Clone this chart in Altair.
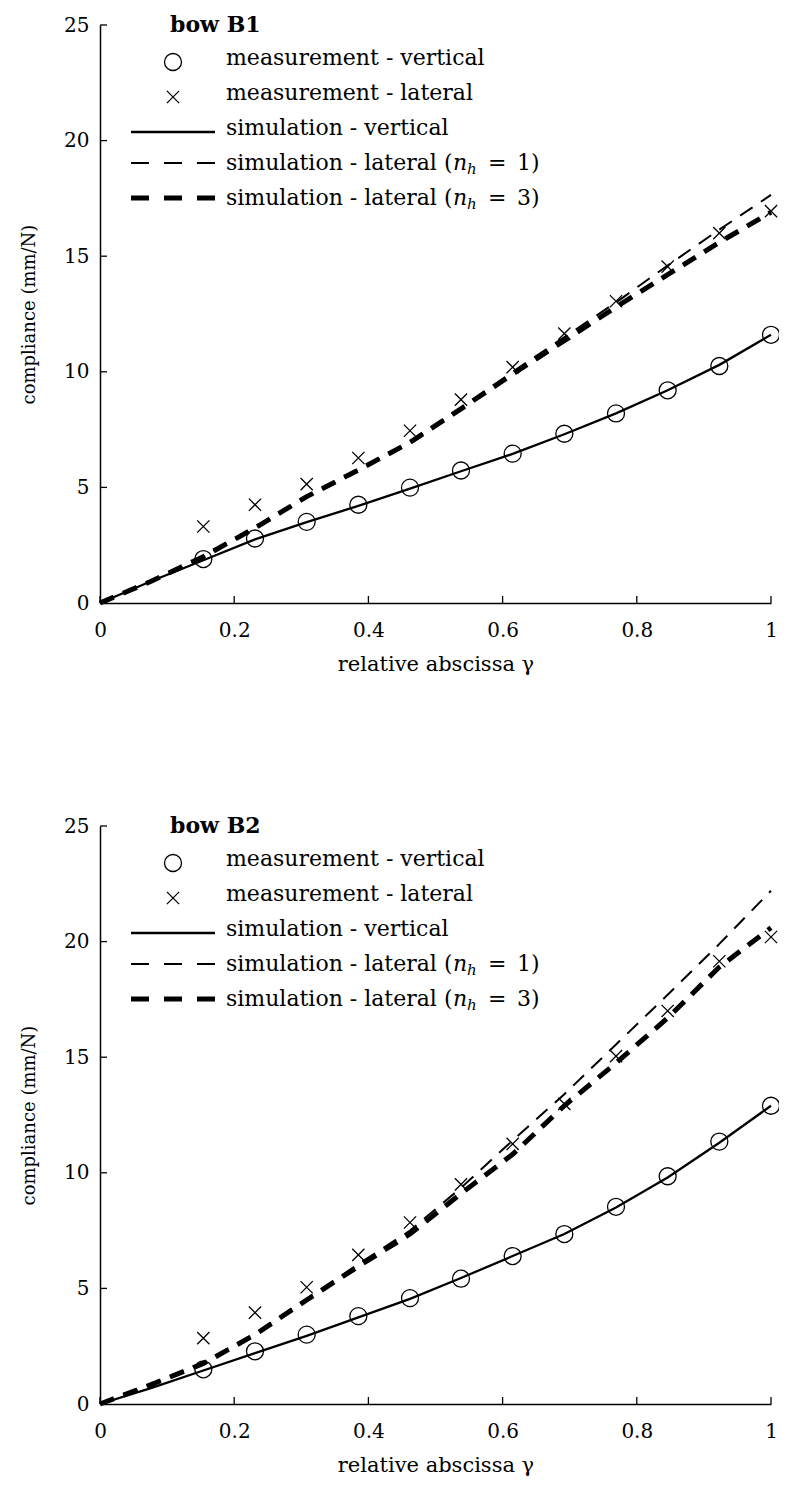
import altair as alt
import pandas as pd

FONT = "DejaVu Serif"

# ---------------- data ----------------
gamma_meas = [0.154, 0.231, 0.308, 0.385, 0.462, 0.538, 0.615, 0.692, 0.769, 0.846, 0.923, 1.0]
gamma_sim = [0.0, 0.077, 0.154, 0.231, 0.308, 0.385, 0.462, 0.538, 0.615, 0.692, 0.769, 0.846, 0.923, 1.0]

b1_meas_vert = [1.90, 2.79, 3.51, 4.25, 4.99, 5.73, 6.46, 7.32, 8.20, 9.20, 10.25, 11.60]
b1_meas_lat = [3.31, 4.25, 5.14, 6.27, 7.45, 8.80, 10.20, 11.65, 13.05, 14.55, 16.00, 16.95]
b1_sim_vert = [0.0, 0.95, 1.85, 2.75, 3.50, 4.20, 4.95, 5.70, 6.45, 7.30, 8.20, 9.20, 10.30, 11.60]
b1_sim_lat1 = [0.0, 0.95, 2.00, 3.25, 4.60, 5.75, 6.95, 8.45, 10.00, 11.50, 13.00, 14.60, 16.15, 17.65]
b1_sim_lat3 = [0.0, 0.95, 2.00, 3.25, 4.60, 5.75, 6.95, 8.40, 9.90, 11.35, 12.80, 14.20, 15.60, 16.90]

b2_meas_vert = [1.50, 2.28, 3.00, 3.80, 4.58, 5.42, 6.40, 7.35, 8.53, 9.85, 11.35, 12.90]
b2_meas_lat = [2.85, 3.95, 5.05, 6.45, 7.85, 9.50, 11.25, 12.98, 15.05, 17.00, 19.15, 20.20]
b2_sim_vert = [0.0, 0.70, 1.45, 2.20, 2.95, 3.75, 4.55, 5.45, 6.40, 7.35, 8.50, 9.80, 11.30, 12.90]
b2_sim_lat1 = [0.0, 0.85, 1.80, 3.05, 4.55, 6.05, 7.50, 9.35, 11.40, 13.40, 15.55, 17.70, 19.90, 22.20]
b2_sim_lat3 = [0.0, 0.85, 1.75, 3.00, 4.50, 5.95, 7.35, 9.10, 10.80, 12.90, 14.75, 16.70, 18.90, 20.60]

x_tick_values = [0, 0.2, 0.4, 0.6, 0.8, 1]
y_tick_values = [0, 5, 10, 15, 20, 25]

panel_titles = ["bow B1", "bow B2"]
legend_labels = ["measurement - vertical", "measurement - lateral", "simulation - vertical",
                 "simulation - lateral (", "simulation - lateral ("]
legend_nh = ["1)", "3)"]

x_title = "relative abscissa γ"
y_title = "compliance (mm/N)"

W, H = 671, 578


def panel(title, mv, ml, sv, s1, s3):
    xs = alt.Scale(domain=[0, 1], nice=False, zero=False)
    ys = alt.Scale(domain=[0, 25], nice=False, zero=False)

    xax = alt.Axis(values=x_tick_values, format="~g", ticks=False, grid=False,
                   domainColor="black", domainWidth=1.5, labelFlush=False, labelOverlap=False,
                   labelFont=FONT, labelFontSize=20, labelColor="black", labelPadding=17,
                   title=x_title, titleFont=FONT, titleFontSize=21, titleFontWeight="normal",
                   titleColor="black", titleY=61, titleBaseline="middle")
    yax = alt.Axis(values=y_tick_values, format="~g", ticks=False, grid=False,
                   domainColor="black", domainWidth=1.5, labelFlush=False, labelOverlap=False,
                   labelFont=FONT, labelFontSize=20, labelColor="black", labelPadding=11,
                   title=y_title, titleFont=FONT, titleFontSize=18, titleFontWeight="normal",
                   titleColor="black", titleX=-71, titleY=H / 2, titleAngle=-90,
                   titleBaseline="middle")

    X = alt.X("g:Q", scale=xs, axis=xax)
    Y = alt.Y("val:Q", scale=ys, axis=yax)

    df_v = pd.DataFrame({"g": gamma_sim, "val": sv})
    df_1 = pd.DataFrame({"g": gamma_sim, "val": s1})
    df_3 = pd.DataFrame({"g": gamma_sim, "val": s3})
    df_mv = pd.DataFrame({"g": gamma_meas, "val": mv})
    df_ml = pd.DataFrame({"g": gamma_meas, "val": ml})

    line_v = alt.Chart(df_v).mark_line(color="black", strokeWidth=2.3).encode(x=X, y=Y)
    line_1 = alt.Chart(df_1).mark_line(color="black", strokeWidth=2.0, strokeDash=[15, 10]).encode(x=X, y=Y)
    line_3 = alt.Chart(df_3).mark_line(color="black", strokeWidth=5.0, strokeDash=[15, 10]).encode(x=X, y=Y)
    pts_v = alt.Chart(df_mv).mark_point(shape="circle", size=289, filled=False, color="black",
                                        strokeWidth=1.3, opacity=1).encode(x=X, y=Y)
    pts_l = alt.Chart(df_ml).mark_point(shape="M-1,-1L1,1M-1,1L1,-1", size=150, filled=False,
                                        color="black", strokeWidth=1.3, opacity=1).encode(x=X, y=Y)

    yticks = alt.Chart(pd.DataFrame({"val": y_tick_values})).mark_rule(color="black", strokeWidth=1.3).encode(
        y=Y, x=alt.value(0), x2=alt.value(7))
    xticks = alt.Chart(pd.DataFrame({"g": x_tick_values})).mark_rule(color="black", strokeWidth=1.3).encode(
        x=X, y=alt.value(H), y2=alt.value(H - 7))

    one = pd.DataFrame({"k": [0]})
    leg = []
    leg.append(alt.Chart(pd.DataFrame({"t": [title]})).mark_text(
        font=FONT, fontSize=22, fontWeight="bold", align="left", baseline="alphabetic", color="black"
    ).encode(text="t:N", x=alt.value(70), y=alt.value(7)))
    row_base = [40, 75, 110, 145, 180]
    for lab, yb in zip(legend_labels, row_base):
        leg.append(alt.Chart(pd.DataFrame({"t": [lab]})).mark_text(
            font=FONT, fontSize=22, align="left", baseline="alphabetic", color="black"
        ).encode(text="t:N", x=alt.value(126), y=alt.value(yb)))
    for nh, yb in zip(legend_nh, row_base[3:]):
        leg.append(alt.Chart(pd.DataFrame({"t": ["n"]})).mark_text(
            font=FONT, fontSize=22, fontStyle="italic", align="left", baseline="alphabetic", color="black"
        ).encode(text="t:N", x=alt.value(353), y=alt.value(yb)))
        leg.append(alt.Chart(pd.DataFrame({"t": ["h"]})).mark_text(
            font=FONT, fontSize=15, fontStyle="italic", align="left", baseline="alphabetic", color="black"
        ).encode(text="t:N", x=alt.value(367), y=alt.value(yb + 4)))
        leg.append(alt.Chart(pd.DataFrame({"t": ["="]})).mark_text(
            font=FONT, fontSize=22, align="left", baseline="alphabetic", color="black"
        ).encode(text="t:N", x=alt.value(388), y=alt.value(yb)))
        leg.append(alt.Chart(pd.DataFrame({"t": [nh]})).mark_text(
            font=FONT, fontSize=22, align="left", baseline="alphabetic", color="black"
        ).encode(text="t:N", x=alt.value(417), y=alt.value(yb)))
    leg.append(alt.Chart(one).mark_point(shape="circle", size=289, filled=False, color="black",
                                         strokeWidth=1.3, opacity=1).encode(x=alt.value(73), y=alt.value(37)))
    leg.append(alt.Chart(one).mark_point(shape="M-1,-1L1,1M-1,1L1,-1", size=150, filled=False,
                                         color="black", strokeWidth=1.3, opacity=1).encode(x=alt.value(73), y=alt.value(72)))
    leg.append(alt.Chart(one).mark_rule(color="black", strokeWidth=2.3).encode(
        x=alt.value(31), x2=alt.value(115), y=alt.value(107)))
    leg.append(alt.Chart(one).mark_rule(color="black", strokeWidth=2.0, strokeDash=[18, 15]).encode(
        x=alt.value(31), x2=alt.value(115), y=alt.value(138)))
    leg.append(alt.Chart(one).mark_rule(color="black", strokeWidth=5.0, strokeDash=[18, 15]).encode(
        x=alt.value(31), x2=alt.value(115), y=alt.value(173)))

    return alt.layer(line_v, line_1, line_3, pts_v, pts_l, yticks, xticks, *leg).properties(width=W, height=H)


top = panel(panel_titles[0], b1_meas_vert, b1_meas_lat, b1_sim_vert, b1_sim_lat1, b1_sim_lat3)
bottom = panel(panel_titles[1], b2_meas_vert, b2_meas_lat, b2_sim_vert, b2_sim_lat1, b2_sim_lat3)

chart = alt.vconcat(top, bottom, spacing=223, bounds="flush").properties(
    padding={"left": 12, "top": 6, "right": -4, "bottom": 4}, background="white"
).configure_view(stroke=None)

chart.save("out.html", embed_options={"renderer": "svg", "actions": False})
